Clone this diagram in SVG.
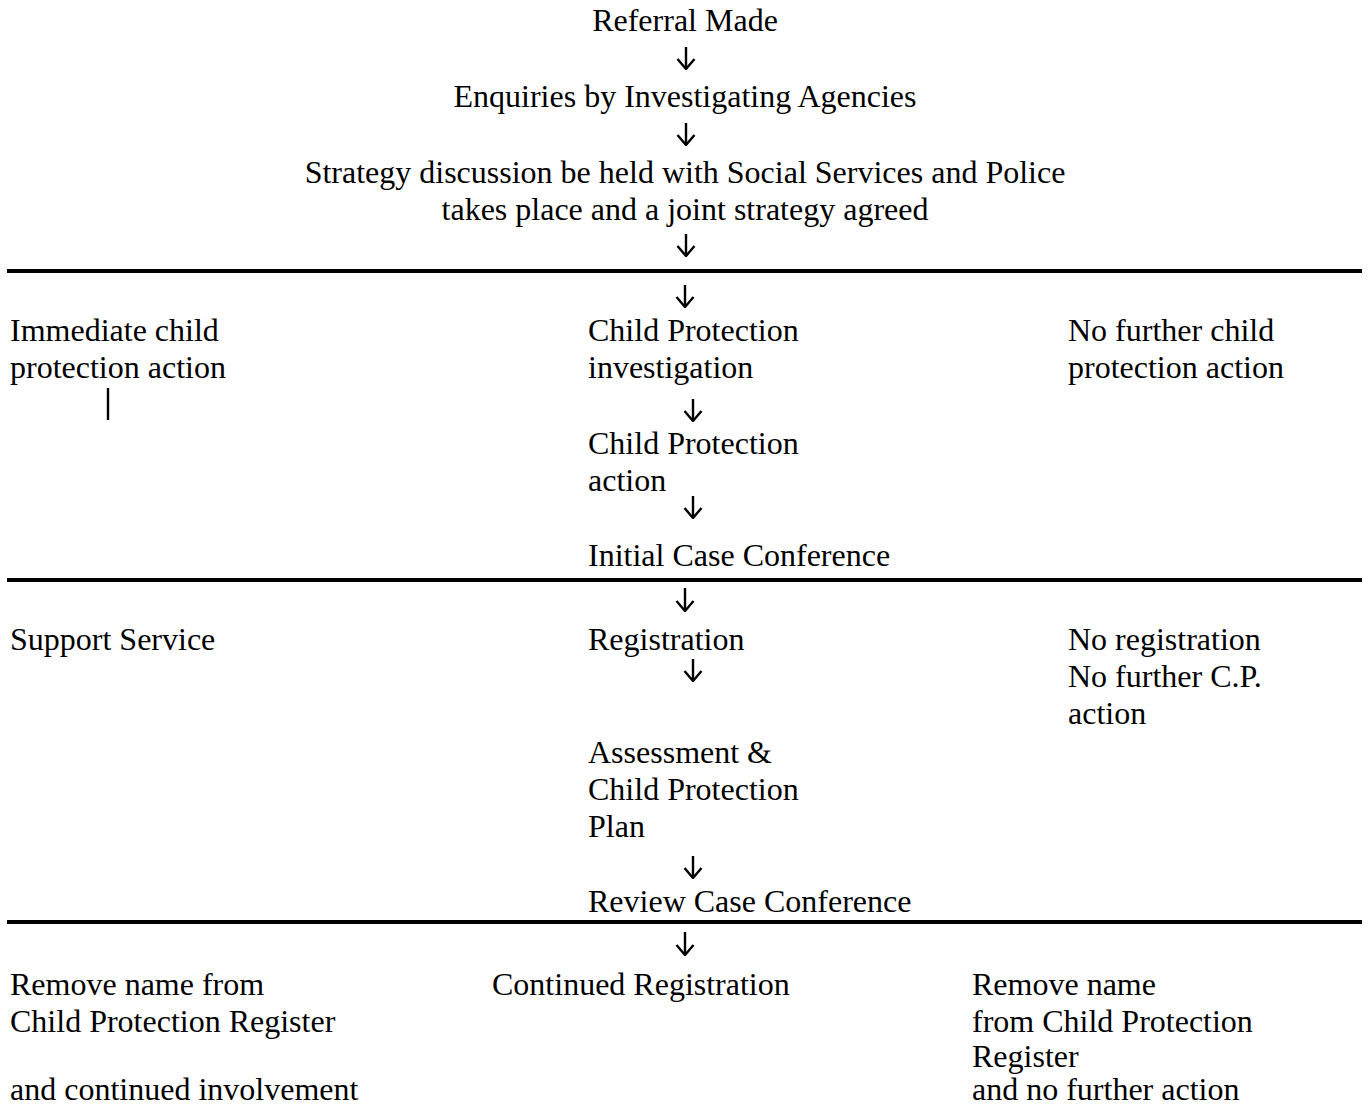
<svg xmlns="http://www.w3.org/2000/svg" width="1368" height="1109" viewBox="0 0 1368 1109">
<style>
  text { font-family: "Liberation Serif", "Times New Roman", serif; font-size: 32px; fill: #000; }
  .c { text-anchor: middle; }
  .rule { stroke: #000; stroke-width: 4; }
  .conn line { stroke: #000; stroke-width: 2.4; fill: none; }
</style>
<defs>
  <marker id="ah" viewBox="0 0 12 20" refX="11" refY="10" markerWidth="12" markerHeight="20" markerUnits="userSpaceOnUse" orient="auto">
    <path d="M1,1.5 L11,10 L1,18.5" fill="none" stroke="#000" stroke-width="2.4"/>
  </marker>
</defs>
<rect width="1368" height="1109" fill="#fff"/>

<g id="rules">
  <line class="rule" x1="7" y1="271" x2="1362" y2="271"/>
  <line class="rule" x1="7" y1="580" x2="1362" y2="580"/>
  <line class="rule" x1="7" y1="922" x2="1362" y2="922"/>
</g>

<g class="conn" id="connectors">
  <line x1="686" y1="47" x2="686" y2="69" marker-end="url(#ah)"/>
  <line x1="686" y1="123" x2="686" y2="145" marker-end="url(#ah)"/>
  <line x1="686" y1="234" x2="686" y2="256" marker-end="url(#ah)"/>
  <line x1="685" y1="285" x2="685" y2="307" marker-end="url(#ah)"/>
  <line x1="693" y1="399" x2="693" y2="421" marker-end="url(#ah)"/>
  <line x1="693" y1="496" x2="693" y2="518" marker-end="url(#ah)"/>
  <line x1="685" y1="588" x2="685" y2="611" marker-end="url(#ah)"/>
  <line x1="693" y1="659" x2="693" y2="681" marker-end="url(#ah)"/>
  <line x1="693" y1="856" x2="693" y2="878" marker-end="url(#ah)"/>
  <line x1="685" y1="932" x2="685" y2="955" marker-end="url(#ah)"/>
  <line x1="108" y1="388" x2="108" y2="420"/>
</g>

<g id="referral"><text class="c" x="685" y="31">Referral Made</text></g>
<g id="enquiries"><text class="c" x="685" y="107">Enquiries by Investigating Agencies</text></g>
<g id="strategy">
  <text class="c" x="685" y="183">Strategy discussion be held with Social Services and Police</text>
  <text class="c" x="685" y="220">takes place and a joint strategy agreed</text>
</g>

<g id="immediate">
  <text x="10" y="341">Immediate child</text>
  <text x="10" y="378">protection action</text>
</g>
<g id="cp-investigation">
  <text x="588" y="341">Child Protection</text>
  <text x="588" y="378">investigation</text>
</g>
<g id="no-further-cp">
  <text x="1068" y="341">No further child</text>
  <text x="1068" y="378">protection action</text>
</g>
<g id="cp-action">
  <text x="588" y="454">Child Protection</text>
  <text x="588" y="491">action</text>
</g>
<g id="initial-conf"><text x="588" y="566">Initial Case Conference</text></g>

<g id="support"><text x="10" y="650">Support Service</text></g>
<g id="registration"><text x="588" y="650">Registration</text></g>
<g id="no-registration">
  <text x="1068" y="650">No registration</text>
  <text x="1068" y="687">No further C.P.</text>
  <text x="1068" y="724">action</text>
</g>
<g id="assessment">
  <text x="588" y="763">Assessment &amp;</text>
  <text x="588" y="800">Child Protection</text>
  <text x="588" y="837">Plan</text>
</g>
<g id="review-conf"><text x="588" y="912">Review Case Conference</text></g>

<g id="remove-continued">
  <text x="10" y="995">Remove name from</text>
  <text x="10" y="1032">Child Protection Register</text>
  <text x="10" y="1100">and continued involvement</text>
</g>
<g id="continued-registration"><text x="492" y="995">Continued Registration</text></g>
<g id="remove-no-action">
  <text x="972" y="995">Remove name</text>
  <text x="972" y="1032">from Child Protection</text>
  <text x="972" y="1067">Register</text>
  <text x="972" y="1100">and no further action</text>
</g>
</svg>
